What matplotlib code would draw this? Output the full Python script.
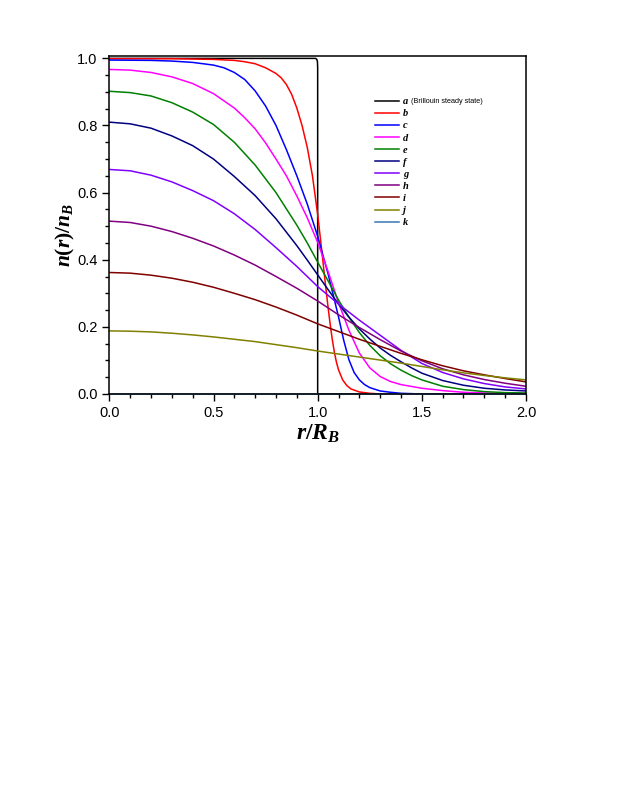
import numpy as np
import matplotlib
matplotlib.use('Agg')
import matplotlib.pyplot as plt
from matplotlib.ticker import MultipleLocator

plt.rcParams['font.family'] = ['Liberation Sans', 'DejaVu Sans']
plt.rcParams['mathtext.fontset'] = 'custom'
plt.rcParams['mathtext.it'] = 'Liberation Serif:italic:bold'
plt.rcParams['mathtext.rm'] = 'Liberation Serif:bold'
plt.rcParams['mathtext.bf'] = 'Liberation Serif:italic:bold'

# curve data (x = r/R_B, y = n(r)/n_B)
x_a = [0.0, 0.99, 0.996, 0.999, 1.0, 1.0, 2.0]
y_a = [1.0, 1.0, 0.997, 0.99, 0.97, 0.0, 0.0]

x_b = [0.0, 0.3, 0.5, 0.6, 0.65, 0.7, 0.75, 0.8, 0.825, 0.85, 0.875, 0.9,
       0.925, 0.95, 0.975, 1.0, 1.01, 1.02, 1.03, 1.04, 1.05, 1.06, 1.07,
       1.08, 1.09, 1.1, 1.12, 1.14, 1.16, 1.2, 1.25, 1.3, 2.0]
y_b = [0.999, 0.999, 0.997, 0.994, 0.990, 0.984, 0.972, 0.955, 0.942, 0.922,
       0.893, 0.852, 0.800, 0.735, 0.650, 0.535, 0.480, 0.425, 0.368, 0.312,
       0.258, 0.208, 0.163, 0.125, 0.095, 0.072, 0.042, 0.025, 0.015, 0.006,
       0.002, 0.0, 0.0]

x_c = [0.0, 0.2, 0.3, 0.4, 0.5, 0.55, 0.6, 0.65, 0.7, 0.75, 0.8, 0.85, 0.9,
       0.95, 1.0, 1.05, 1.1, 1.125, 1.15, 1.175, 1.2, 1.225, 1.25, 1.3, 1.35,
       1.4, 1.5, 2.0]
y_c = [0.995, 0.994, 0.992, 0.988, 0.980, 0.972, 0.958, 0.937, 0.903, 0.858,
       0.800, 0.728, 0.650, 0.566, 0.470, 0.358, 0.230, 0.160, 0.102, 0.064,
       0.042, 0.028, 0.019, 0.009, 0.005, 0.002, 0.0, 0.0]

x_d = [0.0, 0.1, 0.2, 0.3, 0.4, 0.5, 0.6, 0.65, 0.7, 0.75, 0.8, 0.85, 0.9,
       0.95, 1.0, 1.05, 1.1, 1.15, 1.2, 1.25, 1.3, 1.35, 1.4, 1.5, 1.6, 1.7,
       1.8, 1.9, 2.0]
y_d = [0.967, 0.965, 0.958, 0.945, 0.925, 0.895, 0.852, 0.823, 0.790, 0.748,
       0.700, 0.650, 0.590, 0.525, 0.452, 0.365, 0.272, 0.190, 0.122, 0.078,
       0.052, 0.037, 0.028, 0.017, 0.010, 0.005, 0.003, 0.002, 0.001]

x_e = [0.0, 0.1, 0.2, 0.3, 0.4, 0.5, 0.6, 0.7, 0.8, 0.9, 0.95, 1.0, 1.05, 1.1,
       1.15, 1.2, 1.25, 1.3, 1.35, 1.4, 1.45, 1.5, 1.6, 1.7, 1.8, 1.9, 2.0]
y_e = [0.902, 0.898, 0.888, 0.868, 0.840, 0.803, 0.750, 0.682, 0.600, 0.503,
       0.450, 0.393, 0.337, 0.280, 0.229, 0.183, 0.145, 0.114, 0.090, 0.071,
       0.055, 0.042, 0.023, 0.013, 0.007, 0.004, 0.003]

x_f = [0.0, 0.1, 0.2, 0.3, 0.4, 0.5, 0.6, 0.7, 0.8, 0.9, 0.95, 1.0, 1.05, 1.1,
       1.15, 1.2, 1.25, 1.3, 1.35, 1.4, 1.45, 1.5, 1.6, 1.7, 1.8, 1.9, 2.0]
y_f = [0.810, 0.805, 0.792, 0.769, 0.740, 0.700, 0.648, 0.591, 0.522, 0.442,
       0.399, 0.355, 0.311, 0.268, 0.229, 0.194, 0.164, 0.137, 0.115, 0.096,
       0.078, 0.062, 0.040, 0.026, 0.017, 0.012, 0.009]

x_g = [0.0, 0.1, 0.2, 0.3, 0.4, 0.5, 0.6, 0.7, 0.8, 0.9, 1.0, 1.1, 1.2, 1.3,
       1.4, 1.5, 1.6, 1.7, 1.8, 1.9, 2.0]
y_g = [0.669, 0.665, 0.652, 0.632, 0.606, 0.576, 0.537, 0.490, 0.436, 0.380,
       0.320, 0.268, 0.220, 0.175, 0.130, 0.091, 0.064, 0.045, 0.031, 0.021,
       0.015]

x_h = [0.0, 0.1, 0.2, 0.3, 0.4, 0.5, 0.6, 0.7, 0.8, 0.9, 1.0, 1.1, 1.2, 1.3,
       1.4, 1.5, 1.6, 1.7, 1.8, 1.9, 2.0]
y_h = [0.515, 0.511, 0.500, 0.484, 0.464, 0.441, 0.414, 0.384, 0.350, 0.315,
       0.277, 0.236, 0.198, 0.162, 0.128, 0.099, 0.075, 0.057, 0.043, 0.032,
       0.023]

x_i = [0.0, 0.1, 0.2, 0.3, 0.4, 0.5, 0.6, 0.7, 0.8, 0.9, 1.0, 1.1, 1.2, 1.3,
       1.4, 1.5, 1.6, 1.7, 1.8, 1.9, 2.0]
y_i = [0.362, 0.360, 0.354, 0.345, 0.333, 0.318, 0.300, 0.281, 0.259, 0.235,
       0.209, 0.186, 0.163, 0.142, 0.121, 0.102, 0.084, 0.069, 0.057, 0.046,
       0.036]

x_j = [0.0, 0.1, 0.2, 0.3, 0.4, 0.5, 0.6, 0.7, 0.8, 0.9, 1.0, 1.1, 1.2, 1.3,
       1.4, 1.5, 1.6, 1.7, 1.8, 1.9, 2.0]
y_j = [0.188, 0.187, 0.185, 0.181, 0.176, 0.170, 0.163, 0.156, 0.147, 0.138,
       0.128, 0.119, 0.110, 0.101, 0.092, 0.082, 0.072, 0.063, 0.055, 0.048,
       0.042]

x_k = [0.0, 2.0]
y_k = [0.0, 0.0]

labels = ['a', 'b', 'c', 'd', 'e', 'f', 'g', 'h', 'i', 'j', 'k']
colors = ['#000000', '#ff0000', '#0000ff', '#ff00ff', '#008000', '#000080',
          '#8000ff', '#800080', '#800000', '#808000', '#3a75b0']
xs = [x_a, x_b, x_c, x_d, x_e, x_f, x_g, x_h, x_i, x_j, x_k]
ys = [y_a, y_b, y_c, y_d, y_e, y_f, y_g, y_h, y_i, y_j, y_k]

fig = plt.figure(figsize=(6.23, 8.06), dpi=100)
ax = fig.add_axes([0.1755, 0.5112, 0.6688, 0.4197])

for x, y, c, lab in zip(xs, ys, colors, labels):
    ax.plot(x, y, color=c, lw=1.1, label=lab, clip_on=(lab != 'k'))

ax.set_xlim(0, 2.0)
ax.set_ylim(0, 1.008)
ax.xaxis.set_major_locator(MultipleLocator(0.5))
ax.xaxis.set_minor_locator(MultipleLocator(0.1))
ax.yaxis.set_major_locator(MultipleLocator(0.2))
ax.yaxis.set_minor_locator(MultipleLocator(0.05))
ax.tick_params(which='major', direction='out', length=5, width=1.0, labelsize=10.5)
ax.tick_params(which='minor', direction='out', length=3, width=1.0)
for s in ax.spines.values():
    s.set_linewidth(1.1)

ax.set_xlabel(r'$r/R_B$', fontsize=17, labelpad=2)
ax.set_ylabel(r'$n(r)/n_B$', fontsize=15.5)
ax.yaxis.set_label_coords(-0.078, 0.47)

leg = ax.legend(loc='upper left', bbox_to_anchor=(0.638, 0.878), frameon=False,
                prop={'family': 'Liberation Serif', 'style': 'italic',
                      'weight': 'bold', 'size': 7.5},
                handlelength=2.3, handletextpad=0.35, labelspacing=0.27,
                borderpad=0, borderaxespad=0)

# small note after the first legend entry
fig.canvas.draw()
bb = leg.get_texts()[0].get_window_extent()
px, py = fig.transFigure.inverted().transform((bb.x1 + 3, (bb.y0 + bb.y1) / 2))
fig.text(px, py, '(Brillouin steady state)', fontsize=5.2, va='center', ha='left')

plt.savefig('out.png', dpi=100)
